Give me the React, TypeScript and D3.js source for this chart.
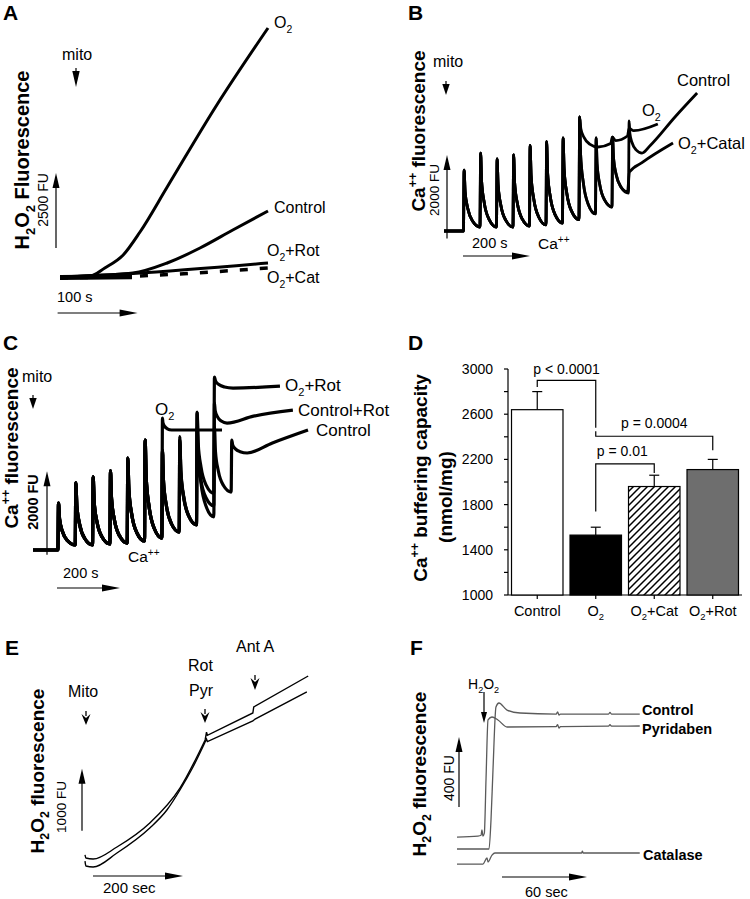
import React from 'react';
import * as d3 from 'd3';

const FONT = '"Liberation Sans", Arial, Helvetica, sans-serif';

// ---------- Panel A (time s, fluorescence FU) ----------
const A_O2 = [[0, 33], [38, 67], [56, 333], [79, 767], [100, 1533], [134, 3033], [196, 5767], [260, 8333]];
const A_CONTROL = [[0, 33], [91, 167], [134, 500], [175, 1000], [216, 1600], [260, 2233]];
const A_O2ROT = [[0, 33], [91, 150], [260, 500]];
const A_O2CAT = [[0, 0], [90, 60], [260, 333]];

// ---------- Panel B (Ca pulses) ----------
const B_PULSES = [60, 110, 160, 210, 260, 310, 360, 410, 460, 510, 560];
const B_CONTROL_PEAKS = [1600, 2050, 1900, 2000, 2250, 2350, 2450, 3000, 2450, 2470, 2900];
const B_CONTROL_TROUGHS = [105, 105, 105, 130, 160, 210, 300, 450, 630, 1000];
const B_CONTROL_TAIL = [[600, 2050], [625, 2250], [700, 3000], [767, 3630]];
const B_O2_PEAKS = [1600, 2050, 1900, 2000, 2250, 2350, 2450, 3000];
const B_O2_TROUGHS = [105, 105, 105, 130, 160, 210, 300];
const B_O2_TAIL = [[467, 2210], [505, 2300], [510, 2470], [520, 2380], [556, 2500], [561, 2700], [575, 2640], [648, 2815]];
const B_CAT_PEAKS = [1600, 2050, 1900, 2000, 2250, 2350, 2450, 3000, 2450, 2470];
const B_CAT_TROUGHS = [105, 105, 105, 130, 160, 210, 300, 450, 630];
const B_CAT_TAIL = [[556, 1025], [562, 1550], [600, 1800], [694, 2315]];

// ---------- Panel C ----------
const C_PULSES = [80, 135, 190, 245, 300, 355, 410, 465, 520, 575, 630];
const C_CONTROL_PEAKS = [1490, 2130, 2320, 2510, 2920, 3490, 3175, 3490, 4350, 3900, 3490];
const C_CONTROL_TROUGHS = [160, 160, 190, 220, 285, 380, 570, 800, 1050, 1840];
const C_CONTROL_TAIL = [[680, 3080], [760, 3400], [873, 3810]];
const C_CTLROT_PEAKS = [1490, 2130, 2320, 2510, 2920, 3490, 3175, 3490, 3900, 4670];
const C_CTLROT_TROUGHS = [160, 160, 190, 220, 285, 380, 570, 800, 1400];
const C_CTLROT_TAIL = [[616, 4030], [700, 4250], [825, 4440]];
const C_O2ROT_PEAKS = [1490, 2130, 2320, 2510, 2920, 3490, 3175, 3600, 4380, 5490];
const C_O2ROT_TROUGHS = [160, 160, 190, 220, 285, 380, 570, 800, 1800];
const C_O2ROT_TAIL = [[635, 5140], [784, 5200]];
const C_O2_PEAKS = [1490, 2130, 2320, 2510, 2920, 3490, 4190];
const C_O2_TROUGHS = [160, 160, 190, 220, 285, 380];
const C_O2_TAIL = [[440, 3810], [600, 3810]];

// ---------- Panel D ----------
const D_CATS = ['Control', 'O_2', 'O_2+Cat', 'O_2+Rot'];
const D_MEANS = [2640, 1530, 1960, 2110];
const D_ERR = [160, 70, 100, 90];
const D_TICKS = [1000, 1400, 1800, 2200, 2600, 3000];
const D_MINOR = [1200, 1600, 2000, 2400, 2800];
const D_PLABELS = ['p < 0.0001', 'p = 0.01', 'p = 0.0004'];

// ---------- Panel E ----------
const E_UPPER_RISE = [[0, 210], [2, 161], [18, 145], [71, 339], [144, 726], [211, 1290], [267, 2065]];
const E_UPPER_LATE = [[267, 2065], [270, 2190], [272, 2140], [373, 2500], [375, 2597], [496, 3097]];
const E_LOWER_RISE = [[0, 110], [2, 32], [18, 16], [71, 242], [144, 645], [182, 935], [211, 1258], [240, 1629], [267, 2032]];
const E_LOWER_LATE = [[267, 2032], [270, 2080], [272, 2040], [373, 2371], [378, 2403], [493, 2839]];

// ---------- Panel F ----------
const F_CONTROL = [[0, 122], [22.6, 122], [24, 319], [25.4, 658], [27.5, 1085], [29.6, 1112], [35.3, 1064], [44.5, 1044], [70, 1037], [71, 1052], [72, 1030], [73, 1037], [107, 1037], [108, 1048], [109, 1037], [129, 1037]];
const F_PYR = [[0, 203], [14.8, 210], [17, 215], [17.6, 251], [18.3, 210], [19.3, 230], [20.5, 600], [21.9, 997], [24.7, 1017], [28.9, 997], [35.3, 949], [70, 952], [71, 965], [72, 942], [73, 952], [107, 955], [108, 965], [109, 955], [129, 956]];
const F_CAT = [[0, 20], [18.3, 20], [21.2, 61], [21.9, 34], [24.7, 81], [26.8, 95], [88, 95], [88.5, 108], [89, 95], [129, 95]];

// decay shape of a Ca2+ uptake transient (fraction of interval, fraction of amplitude left)
const DECAY_KNEES = [[0.08, 0.62], [0.25, 0.32], [0.55, 0.1]];

// ---------- helpers ----------
function spikeTrace(pulses, peaks, troughs, tail) {
  const pts = [[0, 0]];
  const n = peaks.length;
  for (let i = 0; i < n; i++) {
    const t = pulses[i];
    const p = peaks[i];
    const prev = i === 0 ? 0 : troughs[i - 1];
    pts.push([t - 1, prev]);
    pts.push([t + 1, p]);
    let r, tEnd;
    if (i < n - 1) { r = troughs[i]; tEnd = pulses[i + 1] - 1; } else { r = tail[0][1]; tEnd = tail[0][0]; }
    const dt = tEnd - t;
    if (r < p && dt > 10) {
      DECAY_KNEES.forEach(([f, a]) => pts.push([t + f * dt, r + a * (p - r)]));
    }
    if (i === n - 1) tail.forEach((d) => pts.push(d));
  }
  return pts;
}

function Rich({ text, fs, ...props }) {
  const segs = [];
  let i = 0;
  let buf = '';
  while (i < text.length) {
    const c = text[i];
    if (c === '_') { if (buf) segs.push([buf, 0]); buf = ''; segs.push([text[i + 1], 1]); i += 2; continue; }
    if (c === '^' && text[i + 1] === '{') {
      if (buf) segs.push([buf, 0]); buf = '';
      const j = text.indexOf('}', i);
      segs.push([text.slice(i + 2, j), -1]);
      i = j + 1; continue;
    }
    buf += c; i++;
  }
  if (buf) segs.push([buf, 0]);
  let cur = 0;
  return (
    <text {...props} fontSize={fs}>
      {segs.map(([s, k], idx) => {
        const target = k === 1 ? fs * 0.3 : k === -1 ? -fs * 0.4 : 0;
        const dy = target - cur;
        cur = target;
        return <tspan key={idx} dy={dy !== 0 ? dy : undefined} fontSize={k ? fs * 0.65 : undefined}>{s}</tspan>;
      })}
    </text>
  );
}

function VLabel({ text, cx, cy, fs, bold = true }) {
  return <Rich text={text} fs={fs} transform={`translate(${cx + fs * 0.35},${cy}) rotate(-90)`} textAnchor="middle" fontWeight={bold ? 'bold' : 'normal'} />;
}

function Arrow({ x1, y1, x2, y2, len = 15, w = 7, sw = 1.2, color = '#000' }) {
  const a = Math.atan2(y2 - y1, x2 - x1);
  const c = Math.cos(a), s = Math.sin(a);
  const bx = x2 - c * len, by = y2 - s * len;
  const px = -s * w / 2, py = c * w / 2;
  return (
    <g>
      <line x1={x1} y1={y1} x2={bx + c * 2} y2={by + s * 2} stroke={color} strokeWidth={sw} />
      <polygon points={`${x2},${y2} ${bx + px},${by + py} ${bx - px},${by - py}`} fill={color} />
    </g>
  );
}

function Dart({ x, y0, y1 }) {
  return (
    <g>
      <line x1={x} y1={y0} x2={x} y2={y0 + 4} stroke="#000" strokeWidth={1.2} />
      <polygon points={`${x - 3.7},${y0 + 3} ${x + 3.7},${y0 + 3} ${x},${y1}`} fill="#000" />
    </g>
  );
}

function Chevron({ x, y0, y1 }) {
  return (
    <g>
      <line x1={x} y1={y0} x2={x} y2={y0 + 5} stroke="#000" strokeWidth={1.3} />
      <polygon points={`${x - 4.5},${y0 + 3} ${x},${y1} ${x + 4.5},${y0 + 3} ${x},${y0 + 7}`} fill="#000" />
    </g>
  );
}

function PanelLetter({ x, y, t }) {
  return <text x={x} y={y} fontSize={21} fontWeight="bold">{t}</text>;
}

// ---------- panels ----------
function PanelA() {
  const x = d3.scaleLinear().domain([0, 100]).range([60, 140]);
  const y = d3.scaleLinear().domain([0, 2500]).range([278, 203]);
  const line = d3.line().x((d) => x(d[0])).y((d) => y(d[1])).curve(d3.curveMonotoneX);
  return (
    <g>
      <PanelLetter x={3} y={20} t="A" />
      <VLabel text="H_2O_2 Fluorescence" cx={22} cy={160} fs={20} />
      <text x={62} y={60} fontSize={16}>mito</text>
      <Dart x={76} y0={68} y1={87} />
      <Rich text="2500 FU" fs={14} transform={`translate(${43 + 5},200) rotate(-90)`} textAnchor="middle" />
      <Arrow x1={56} y1={y(1000)} x2={56} y2={y(3500)} />
      <text x={57} y={302} fontSize={14.5}>100 s</text>
      <Arrow x1={x(-3)} y1={313} x2={x(97)} y2={313} len={18} />
      <path d={line(A_O2CAT)} fill="none" stroke="#000" strokeWidth={3.5} strokeDasharray="8,12" />
      <path d={line(A_O2ROT)} fill="none" stroke="#000" strokeWidth={3} />
      <path d={line(A_CONTROL)} fill="none" stroke="#000" strokeWidth={3} />
      <path d={line(A_O2)} fill="none" stroke="#000" strokeWidth={3} />
      <line x1={x(0)} y1={y(20)} x2={x(90)} y2={y(40)} stroke="#000" strokeWidth={5} />
      <Rich text="O_2" fs={16} x={274} y={28} />
      <Rich text="Control" fs={16} x={274} y={213} />
      <Rich text="O_2+Rot" fs={16} x={267} y={256} />
      <Rich text="O_2+Cat" fs={16} x={267} y={283} />
    </g>
  );
}

function PanelB() {
  const x = d3.scaleLinear().domain([0, 200]).range([444, 510]);
  const y = d3.scaleLinear().domain([0, 2000]).range([231, 155]);
  const line = d3.line().x((d) => x(d[0])).y((d) => y(d[1])).curve(d3.curveMonotoneX);
  const traces = [
    spikeTrace(B_PULSES, B_CONTROL_PEAKS, B_CONTROL_TROUGHS, B_CONTROL_TAIL),
    spikeTrace(B_PULSES, B_CAT_PEAKS, B_CAT_TROUGHS, B_CAT_TAIL),
    spikeTrace(B_PULSES, B_O2_PEAKS, B_O2_TROUGHS, B_O2_TAIL),
  ];
  return (
    <g>
      <PanelLetter x={408} y={20} t="B" />
      <VLabel text="Ca^{++} fluorescence" cx={418} cy={131} fs={19} />
      <text x={433} y={67} fontSize={16}>mito</text>
      <Dart x={446} y0={81} y1={95} />
      <Rich text="2000 FU" fs={13.5} transform={`translate(${434 + 5},190) rotate(-90)`} textAnchor="middle" />
      <Arrow x1={447} y1={y(-200)} x2={447} y2={y(2000)} />
      <text x={472} y={248} fontSize={14.5}>200 s</text>
      <Rich text="Ca^{++}" fs={15.5} x={538} y={249} />
      <Arrow x1={463} y1={256} x2={463 + (x(200) - x(0)) + 1} y2={256} len={18} />
      {traces.map((t, i) => (
        <path key={i} d={line(t)} fill="none" stroke="#000" strokeWidth={2.8} strokeLinejoin="round" />
      ))}
      <Rich text="Control" fs={16.5} x={677} y={86} />
      <Rich text="O_2" fs={16.5} x={642} y={116} />
      <Rich text="O_2+Catal" fs={16.5} x={678} y={149} />
    </g>
  );
}

function PanelC() {
  const x = d3.scaleLinear().domain([0, 200]).range([33, 96]);
  const y = d3.scaleLinear().domain([0, 2000]).range([550, 487]);
  const line = d3.line().x((d) => x(d[0])).y((d) => y(d[1])).curve(d3.curveMonotoneX);
  const traces = [
    spikeTrace(C_PULSES, C_CONTROL_PEAKS, C_CONTROL_TROUGHS, C_CONTROL_TAIL),
    spikeTrace(C_PULSES, C_CTLROT_PEAKS, C_CTLROT_TROUGHS, C_CTLROT_TAIL),
    spikeTrace(C_PULSES, C_O2ROT_PEAKS, C_O2ROT_TROUGHS, C_O2ROT_TAIL),
    spikeTrace(C_PULSES, C_O2_PEAKS, C_O2_TROUGHS, C_O2_TAIL),
  ];
  return (
    <g>
      <PanelLetter x={3} y={350} t="C" />
      <VLabel text="Ca^{++} fluorescence" cx={11} cy={448} fs={19} />
      <text x={22} y={382} fontSize={16}>mito</text>
      <Dart x={33} y0={395} y1={409} />
      <Rich text="2000 FU" fs={14.5} transform={`translate(${33 + 5},502) rotate(-90)`} textAnchor="middle" fontWeight="bold" />
      <Arrow x1={47} y1={y(-150)} x2={47} y2={y(2500)} />
      <text x={63} y={578} fontSize={14.5}>200 s</text>
      <Rich text="Ca^{++}" fs={15.5} x={128} y={562} />
      <Arrow x1={57} y1={588} x2={57 + (x(200) - x(0))} y2={588} len={18} />
      {traces.map((t, i) => (
        <path key={i} d={line(t)} fill="none" stroke="#000" strokeWidth={3.2} strokeLinejoin="round" />
      ))}
      <Rich text="O_2" fs={17} x={155} y={415} />
      <Rich text="O_2+Rot" fs={17} x={285} y={391} />
      <Rich text="Control+Rot" fs={17} x={298} y={416} />
      <Rich text="Control" fs={17} x={316} y={436} />
    </g>
  );
}

function PanelD() {
  const x = d3.scaleBand().domain(D_CATS).range([508, 742]).paddingInner(0.12).paddingOuter(0.06);
  const y = d3.scaleLinear().domain([1000, 3000]).range([595, 369]);
  const fills = ['#fff', '#000', 'url(#hatch)', '#6e6e6e'];
  const cx = (i) => x(D_CATS[i]) + x.bandwidth() / 2;
  return (
    <g>
      <PanelLetter x={408} y={350} t="D" />
      <VLabel text="Ca^{++} buffering capacity" cx={420} cy={478} fs={19} />
      <VLabel text="(nmol/mg)" cx={445} cy={497} fs={19} />
      <line x1={508} y1={y(3000)} x2={508} y2={y(1000)} stroke="#000" strokeWidth={1.2} />
      <line x1={508} y1={y(1000)} x2={742} y2={y(1000)} stroke="#000" strokeWidth={1.2} />
      {D_TICKS.map((t) => (
        <g key={t}>
          <line x1={504} x2={508} y1={y(t)} y2={y(t)} stroke="#000" strokeWidth={1.2} />
          <text x={493} y={y(t) + 5} fontSize={14} textAnchor="end">{t}</text>
        </g>
      ))}
      {D_MINOR.map((t) => (
        <line key={t} x1={504} x2={508} y1={y(t)} y2={y(t)} stroke="#000" strokeWidth={1.2} />
      ))}
      {D_CATS.map((c, i) => (
        <g key={c}>
          <line x1={cx(i)} x2={cx(i)} y1={y(D_MEANS[i])} y2={y(D_MEANS[i] + D_ERR[i])} stroke="#000" strokeWidth={1.2} />
          <line x1={cx(i) - 5} x2={cx(i) + 5} y1={y(D_MEANS[i] + D_ERR[i])} y2={y(D_MEANS[i] + D_ERR[i])} stroke="#000" strokeWidth={1.2} />
          <rect x={x(c)} y={y(D_MEANS[i])} width={x.bandwidth()} height={y(1000) - y(D_MEANS[i])} fill={fills[i]} stroke="#000" strokeWidth={1.2} />
          <line x1={cx(i)} x2={cx(i)} y1={y(1000)} y2={y(1000) + 4} stroke="#000" strokeWidth={1.2} />
          <Rich text={c} fs={14.5} x={cx(i)} y={616} textAnchor="middle" />
        </g>
      ))}
      <path d={`M${cx(0)},${y(2840)}V${y(2900)}H${cx(1)}V${y(2480)}`} fill="none" stroke="#000" strokeWidth={1.2} />
      <text x={(cx(0) + cx(1)) / 2} y={y(2960)} fontSize={14} textAnchor="middle">{D_PLABELS[0]}</text>
      <path d={`M${cx(1)},${y(2450)}V${y(2405)}H${cx(3)}V${y(2280)}`} fill="none" stroke="#000" strokeWidth={1.2} />
      <text x={(cx(1) + cx(3)) / 2} y={y(2480)} fontSize={14} textAnchor="middle">{D_PLABELS[2]}</text>
      <path d={`M${cx(1)},${y(1740)}V${y(2160)}H${cx(2)}V${y(2080)}`} fill="none" stroke="#000" strokeWidth={1.2} />
      <text x={cx(1) + 1} y={y(2230)} fontSize={14}>{D_PLABELS[1]}</text>
    </g>
  );
}

function PanelE() {
  const x = d3.scaleLinear().domain([0, 200]).range([85, 175]);
  const y = d3.scaleLinear().domain([0, 1000]).range([868, 806]);
  const smooth = d3.line().x((d) => x(d[0])).y((d) => y(d[1])).curve(d3.curveMonotoneX);
  const straight = d3.line().x((d) => x(d[0])).y((d) => y(d[1]));
  return (
    <g>
      <PanelLetter x={5} y={655} t="E" />
      <VLabel text="H_2O_2 fluorescence" cx={37} cy={771} fs={19} />
      <text x={68} y={697} fontSize={16}>Mito</text>
      <Chevron x={86} y0={711} y1={725} />
      <text x={188} y={671} fontSize={16}>Rot</text>
      <text x={189} y={696} fontSize={16}>Pyr</text>
      <Chevron x={205} y0={709} y1={723} />
      <text x={236} y={652} fontSize={16}>Ant A</text>
      <Chevron x={255} y0={675} y1={690} />
      <Rich text="1000 FU" fs={13.5} transform={`translate(${61 + 5},807) rotate(-90)`} textAnchor="middle" />
      <Arrow x1={82} y1={y(600)} x2={82} y2={y(1600)} />
      <text x={103} y={893} fontSize={15}>200 sec</text>
      <Arrow x1={93} y1={876} x2={93 + (x(200) - x(0))} y2={876} len={18} />
      <path d={smooth(E_UPPER_RISE)} fill="none" stroke="#000" strokeWidth={1.4} />
      <path d={straight(E_UPPER_LATE)} fill="none" stroke="#000" strokeWidth={1.4} />
      <path d={smooth(E_LOWER_RISE)} fill="none" stroke="#000" strokeWidth={1.4} />
      <path d={straight(E_LOWER_LATE)} fill="none" stroke="#000" strokeWidth={1.4} />
    </g>
  );
}

function PanelF() {
  const x = d3.scaleLinear().domain([0, 60]).range([457, 542]);
  const y = d3.scaleLinear().domain([0, 400]).range([867, 808]);
  const line = d3.line().x((d) => x(d[0])).y((d) => y(d[1])).curve(d3.curveMonotoneX);
  const col = '#5a5a5a';
  return (
    <g>
      <PanelLetter x={410} y={655} t="F" />
      <VLabel text="H_2O_2 fluorescence" cx={419} cy={774} fs={19} />
      <Rich text="H_2O_2" fs={14} x={468} y={689} />
      <Arrow x1={484} y1={692} x2={484} y2={723} len={11} w={6} />
      <Rich text="400 FU" fs={14} transform={`translate(${449 + 5},778) rotate(-90)`} textAnchor="middle" />
      <Arrow x1={459} y1={807} x2={459} y2={807 - (y(0) - y(400)) - 11} />
      <text x={525} y={897} fontSize={14.5}>60 sec</text>
      <Arrow x1={502} y1={877} x2={502 + (x(60) - x(0))} y2={877} len={18} />
      <path d={line(F_PYR)} fill="none" stroke={col} strokeWidth={1.3} />
      <path d={line(F_CONTROL)} fill="none" stroke={col} strokeWidth={1.3} />
      <path d={line(F_CAT)} fill="none" stroke={col} strokeWidth={1.3} />
      <text x={642} y={715} fontSize={14.5} fontWeight="bold">Control</text>
      <text x={642} y={734} fontSize={14.5} fontWeight="bold">Pyridaben</text>
      <text x={643} y={860} fontSize={14.5} fontWeight="bold">Catalase</text>
    </g>
  );
}

export default function App() {
  return (
    <svg width={750} height={899} viewBox="0 0 750 899" style={{ position: 'absolute', left: 0, top: 0, background: '#fff' }} fontFamily={FONT}>
      <defs>
        <pattern id="hatch" patternUnits="userSpaceOnUse" width={7} height={7}>
          <rect width={7} height={7} fill="#fff" />
          <path d="M-1.75,1.75 L1.75,-1.75 M0,7 L7,0 M5.25,8.75 L8.75,5.25" stroke="#000" strokeWidth={1.5} />
        </pattern>
      </defs>
      <rect width={750} height={899} fill="#fff" />
      <PanelA />
      <PanelB />
      <PanelC />
      <PanelD />
      <PanelE />
      <PanelF />
    </svg>
  );
}
